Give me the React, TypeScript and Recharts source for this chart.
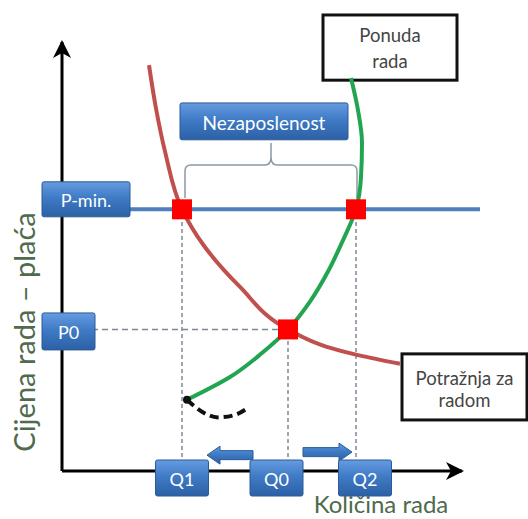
import {
  ComposedChart,
  Line,
  Scatter,
  XAxis,
  YAxis,
  ReferenceLine,
  ReferenceArea,
  Label,
} from "recharts";

// quantity of labour (x) and wage (y), abstract units 0..100
const QUANTITY_TICKS = [30, 56.5, 73.5];
const QUANTITY_LABELS = ["Q1", "Q0", "Q2"];
const WAGE_TICKS = [33, 61];
const WAGE_LABELS = ["P0", "P-min."];

const MIN_WAGE = 61;
const EQ_WAGE = 33;
const Q1 = 30;
const Q0 = 56.5;
const Q2 = 73.5;

const demandCurve = [
  { q: 21.75, p: 94.6 },
  { q: 23.5, p: 84.5 },
  { q: 25.75, p: 74.5 },
  { q: 30, p: 61 },
  { q: 35.5, p: 52.5 },
  { q: 44.5, p: 42.9 },
  { q: 56.5, p: 33 },
  { q: 66, p: 29 },
  { q: 74, p: 27 },
  { q: 84.5, p: 25 },
];

const supplyCurve = [
  { q: 31.25, p: 16.6 },
  { q: 42, p: 21.9 },
  { q: 50, p: 27.5 },
  { q: 56.5, p: 33 },
  { q: 62, p: 39.5 },
  { q: 66.5, p: 46.5 },
  { q: 70.25, p: 53.8 },
  { q: 73.5, p: 61 },
  { q: 74.75, p: 68.5 },
  { q: 75, p: 76.5 },
  { q: 74, p: 84.1 },
  { q: 72.25, p: 91.6 },
];

const supplyTail = [
  { q: 31.25, p: 16.6 },
  { q: 35, p: 13.8 },
  { q: 39, p: 12.5 },
  { q: 43, p: 13 },
  { q: 46.5, p: 14.7 },
];

const intersections = [
  { q: Q1, p: MIN_WAGE },
  { q: Q2, p: MIN_WAGE },
  { q: Q0, p: EQ_WAGE },
];

const FONT = "Lato, 'Open Sans', sans-serif";
const TITLE_COLOR = "#4f6a4c";
const GUIDE = "#7d8896";

const Q_BOX_SHIFT = [0, -11.5, 9];
const P_BOX = [
  { w: 53, h: 37, dy: 2 },
  { w: 88, h: 35, dy: -10 },
];

function BlueBox({ x, y, w, h, text, fontSize = 18 }: any) {
  return (
    <g>
      <rect x={x} y={y} width={w} height={h} rx={2} fill="url(#boxFill)" stroke="#2b5b98" strokeWidth={1} />
      <text
        x={x + w / 2}
        y={y + h / 2 + 1}
        textAnchor="middle"
        dominantBaseline="central"
        fill="#ffffff"
        fontSize={fontSize}
        fontFamily={FONT}
      >
        {text}
      </text>
    </g>
  );
}

function QuantityTick(props: any) {
  const { x, y, payload } = props;
  const i = QUANTITY_TICKS.indexOf(payload.value);
  const cx = x + Q_BOX_SHIFT[i];
  return <BlueBox x={cx - 26.5} y={y - 11} w={53} h={36} text={QUANTITY_LABELS[i]} />;
}

function WageTick(props: any) {
  const { x, y, payload } = props;
  const i = WAGE_TICKS.indexOf(payload.value);
  const b = P_BOX[i];
  return <BlueBox x={x - 20} y={y + b.dy - b.h / 2} w={b.w} h={b.h} text={WAGE_LABELS[i]} />;
}

function NoteBox(lines: string[], gap: number, shift: number) {
  return (props: any) => {
    const { x, y, width, height } = props;
    const mid = y + height / 2 + shift;
    return (
      <g>
        <rect x={x} y={y} width={width} height={height} fill="#ffffff" stroke="#111111" strokeWidth={3} />
        {lines.map((t, i) => (
          <text
            key={t}
            x={x + width / 2}
            y={mid + (i - (lines.length - 1) / 2) * gap}
            textAnchor="middle"
            dominantBaseline="central"
            fill="#454545"
            fontSize={18.5}
            fontFamily={FONT}
          >
            {t}
          </text>
        ))}
      </g>
    );
  };
}

function UnemploymentBox(props: any) {
  const { x, y, width, height } = props;
  return <BlueBox x={x} y={y} w={width} h={height} text="Nezaposlenost" fontSize={19} />;
}

function Brace(props: any) {
  const { x1, x2, y1: y } = props;
  const m = (x1 + x2) / 2;
  const d =
    `M ${x1} ${y + 33} L ${x1} ${y + 6} Q ${x1} ${y} ${x1 + 6} ${y} L ${m - 6} ${y} Q ${m} ${y} ${m} ${y - 8} L ${m} ${y - 22} ` +
    `M ${m} ${y - 8} Q ${m} ${y} ${m + 6} ${y} L ${x2 - 6} ${y} Q ${x2} ${y} ${x2} ${y + 6} L ${x2} ${y + 33}`;
  return <path d={d} fill="none" stroke="#8c99a8" strokeWidth={1.5} />;
}

function BlockArrow(props: any) {
  const { x1, y1, x2 } = props;
  const dir = Math.sign(x2 - x1);
  const hx = x2 - dir * 13;
  const d = `M ${x1} ${y1 - 4.5} L ${hx} ${y1 - 4.5} L ${hx} ${y1 - 9} L ${x2} ${y1} L ${hx} ${y1 + 9} L ${hx} ${y1 + 4.5} L ${x1} ${y1 + 4.5} Z`;
  return <path d={d} fill="url(#boxFill)" stroke="#2b5b98" strokeWidth={1} />;
}

function RedSquare(props: any) {
  const { cx, cy } = props;
  return <rect x={cx - 10} y={cy - 10} width={20} height={20} fill="#ff0000" />;
}

function TailDot(props: any) {
  const { cx, cy, index } = props;
  if (index !== 0) return <g key={`d${index}`} />;
  return <circle key={`d${index}`} cx={cx} cy={cy} r={4} fill="#111111" />;
}

export default function App() {
  return (
    <div style={{ position: "absolute", left: 0, top: 0, width: 528, height: 519, background: "#ffffff" }}>
      <ComposedChart width={528} height={519} margin={{ top: 42, right: 66, bottom: 47, left: 61 }}>
        <defs>
          <linearGradient id="boxFill" x1="0" y1="0" x2="0" y2="1">
            <stop offset="0%" stopColor="#679be0" />
            <stop offset="45%" stopColor="#3f7bc6" />
            <stop offset="100%" stopColor="#2c60a5" />
          </linearGradient>
          <marker id="arrowHead" viewBox="0 0 18 18" refX={16} refY={9} markerWidth={18} markerHeight={18} markerUnits="userSpaceOnUse" orient="auto-start-reverse">
            <path d="M 0 0 L 18 9 L 0 18 L 5 9 Z" fill="#000000" />
          </marker>
        </defs>

        <XAxis
          type="number"
          dataKey="q"
          domain={[0, 100]}
          allowDataOverflow
          ticks={QUANTITY_TICKS}
          interval={0}
          height={1}
          tickSize={0}
          tickMargin={0}
          tickLine={false}
          tick={QuantityTick}
          axisLine={{ stroke: "#000000", strokeWidth: 3, markerEnd: "url(#arrowHead)" }}
        >
          <Label
            content={() => (
              <text x={381} y={513} textAnchor="middle" fill={TITLE_COLOR} fontSize={24} fontFamily={FONT}>
                Količina rada
              </text>
            )}
          />
        </XAxis>
        <YAxis
          type="number"
          dataKey="p"
          domain={[0, 100]}
          allowDataOverflow
          ticks={WAGE_TICKS}
          interval={0}
          width={1}
          tickSize={0}
          tickMargin={0}
          tickLine={false}
          tick={WageTick}
          axisLine={{ stroke: "#000000", strokeWidth: 3, markerStart: "url(#arrowHead)" }}
        >
          <Label
            content={() => (
              <text x={23} y={332} transform="rotate(-90 23 332)" textAnchor="middle" dominantBaseline="central" fill={TITLE_COLOR} fontSize={29} fontFamily={FONT}>
                Cijena rada – plaća
              </text>
            )}
          />
        </YAxis>

        {/* guide lines */}
        <ReferenceLine segment={[{ x: Q1, y: 0 }, { x: Q1, y: MIN_WAGE }]} stroke={GUIDE} strokeWidth={1.5} strokeDasharray="4 3" ifOverflow="visible" />
        <ReferenceLine segment={[{ x: Q0, y: 0 }, { x: Q0, y: EQ_WAGE }]} stroke={GUIDE} strokeWidth={1.5} strokeDasharray="4 3" ifOverflow="visible" />
        <ReferenceLine segment={[{ x: Q2, y: 0 }, { x: Q2, y: MIN_WAGE }]} stroke={GUIDE} strokeWidth={1.5} strokeDasharray="4 3" ifOverflow="visible" />
        <ReferenceLine segment={[{ x: 0, y: EQ_WAGE }, { x: Q0, y: EQ_WAGE }]} stroke={GUIDE} strokeWidth={1.5} strokeDasharray="6 4" ifOverflow="visible" />

        {/* minimum wage */}
        <ReferenceLine segment={[{ x: 0, y: MIN_WAGE }, { x: 104.5, y: MIN_WAGE }]} stroke="#4f7fbd" strokeWidth={4} ifOverflow="visible" />

        {/* unemployment brace and label */}
        <ReferenceLine segment={[{ x: 30.75, y: 71.3 }, { x: 73.75, y: 71.3 }]} shape={Brace} ifOverflow="visible" />
        <ReferenceArea x1={29.5} x2={71.5} y1={77.2} y2={85.8} ifOverflow="visible" shape={UnemploymentBox} />

        {/* shift arrows */}
        <ReferenceLine segment={[{ x: 47.75, y: 3.7 }, { x: 36.25, y: 3.7 }]} shape={BlockArrow} ifOverflow="visible" />
        <ReferenceLine segment={[{ x: 60.25, y: 4.4 }, { x: 72.5, y: 4.4 }]} shape={BlockArrow} ifOverflow="visible" />

        <Line data={demandCurve} dataKey="p" type="monotoneY" stroke="#c0504d" strokeWidth={4} dot={false} isAnimationActive={false} />
        <Line data={supplyCurve} dataKey="p" type="monotoneY" stroke="#22a550" strokeWidth={4} dot={false} isAnimationActive={false} />
        <Line data={supplyTail} dataKey="p" type="monotoneX" stroke="#111111" strokeWidth={4} strokeDasharray="9 5" dot={TailDot} isAnimationActive={false} />

        <Scatter data={intersections} dataKey="p" shape={RedSquare} isAnimationActive={false} />

        <ReferenceArea x1={65.25} x2={98.75} y1={91.1} y2={106.3} ifOverflow="visible" shape={NoteBox(["Ponuda", "rada"], 26, 0)} />
        <ReferenceArea x1={85} x2={116.25} y1={11.9} y2={27.3} ifOverflow="visible" shape={NoteBox(["Potražnja za", "radom"], 22, 2)} />
      </ComposedChart>
    </div>
  );
}
